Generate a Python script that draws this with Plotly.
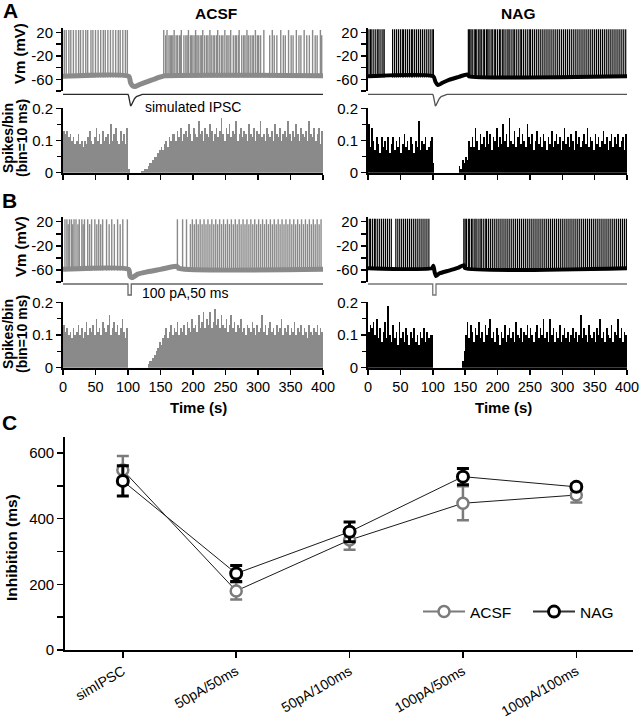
import plotly.graph_objects as go

W, H = 642, 719

# ------------------------------------------------------------------ data
time_ticks = [0, 50, 100, 150, 200, 250, 300, 350, 400]
bin_ms = 2.5
vm_ticks = [20, -20, -60]
vm_minor_ticks = [0, -40, -80]
hist_ticks = [0, 0.1, 0.2]
hist_ticktext = ["0", "0.1", "0.2"]
hist_minor_ticks = [0.05, 0.15]

# stimulus waveforms (time, relative amplitude)
ipsc_t = [0, 100, 101, 102, 103, 104, 105, 106, 108, 110, 113, 117, 122, 400]
ipsc_v = [0, 0, -0.15, -0.55, -0.85, -1.0, -0.95, -0.8, -0.55, -0.38, -0.2, -0.08, 0, 0]
pulse_t = [0, 100, 100, 105, 105, 400]
pulse_v = [0, 0, -1, -1, 0, 0]

# membrane-potential baselines (time, mV)
acsf_a_base_t = [0, 101, 104, 108, 112, 120, 130, 140, 150, 157, 400]
acsf_a_base_v = [-55, -55, -66, -72, -72, -68, -64, -60, -56, -54, -54]
nag_a_base_t = [0, 101, 104, 108, 115, 125, 140, 153, 156, 400]
nag_a_base_v = [-55, -55, -64, -70, -66, -61, -56, -52, -55, -55]
acsf_b_base_t = [0, 101, 103, 106, 115, 130, 150, 175, 180, 400]
acsf_b_base_v = [-59, -59, -70, -73, -67, -63, -59, -54, -58, -59]
nag_b_base_t = [0, 99, 101, 103, 105, 110, 125, 140, 148, 150, 400]
nag_b_base_v = [-57, -57, -53, -64, -70, -66, -61, -56, -52, -57, -57]

# spike times (ms) with their peak groups
acsf_a_spk_tall = [2, 5, 9, 12, 16, 20, 24, 27, 31, 35, 38, 43, 46, 50, 54, 58, 62, 65,
                   69, 73, 77, 81, 85, 88, 92, 96, 99, 155, 160, 171, 182, 193, 204,
                   215, 226, 238, 249, 258, 271, 283, 296, 309, 322, 335, 347, 359,
                   371, 384, 396]
acsf_a_spk_short = [158, 163, 165, 167, 169, 174, 176, 179, 181, 186, 189, 191, 196,
                    198, 200, 203, 206, 208, 211, 213, 218, 221, 223, 228, 231, 233,
                    236, 241, 244, 246, 252, 254, 257, 262, 265, 267, 270, 275, 278,
                    280, 285, 288, 291, 293, 299, 301, 304, 318, 325, 329, 339, 342,
                    351, 354, 363, 366, 375, 379, 388, 391, 398]
nag_a_spk = [1.5, 4, 6, 9, 12, 15, 17, 20, 23, 25, 38, 41, 44, 47, 50, 53, 55, 58, 61,
             64, 67, 69, 72, 75, 78, 81, 84, 87, 90, 93, 96, 99, 101, 155, 157, 159,
             161, 164, 166, 168, 171, 173, 175, 178, 180, 183, 185, 187, 190, 192,
             195, 197, 200, 203, 205, 208, 210, 213, 216, 218, 221, 224, 226, 229,
             232, 235, 237, 240, 243, 246, 249, 251, 254, 257, 260, 263, 266, 269,
             272, 275, 278, 281, 284, 287, 290, 293, 296, 299, 302, 305, 308, 311,
             314, 317, 320, 323, 326, 329, 332, 335, 338, 341, 344, 347, 350, 353,
             356, 359, 362, 365, 368, 371, 374, 377, 380, 383, 386, 389, 392, 395, 398]
acsf_b_spk_tall = [3, 6, 10, 13, 17, 20, 25, 29, 33, 38, 44, 49, 55, 61, 67, 75, 84,
                   92, 99, 176, 184, 190, 199, 205, 211, 217, 223, 229, 235, 241, 247,
                   253, 259, 265, 271, 277, 283, 289, 295, 301, 307, 313, 319, 325,
                   331, 337, 343, 349, 355, 361, 367, 373, 379, 385, 391, 397]
acsf_b_spk_short = [8, 15, 23, 31, 41, 52, 58, 71, 79, 88, 196, 202, 208, 214, 220,
                    226, 232, 238, 244, 250, 256, 262, 268, 274, 280, 286, 292, 298,
                    304, 310, 316, 322, 328, 334, 340, 346, 352, 358, 364, 370, 376,
                    382, 388, 394]
nag_b_spk = [2, 4, 7, 10, 12, 15, 18, 21, 24, 27, 30, 33, 36, 43, 46, 49, 52, 55, 58,
             61, 64, 67, 70, 73, 76, 79, 82, 85, 88, 91, 94, 148, 150, 152, 155, 157,
             160, 162, 165, 167, 170, 173, 175, 178, 181, 183, 186, 189, 192, 195,
             198, 201, 204, 207, 210, 213, 216, 219, 222, 225, 228, 231, 234, 237,
             240, 243, 246, 249, 252, 255, 258, 261, 264, 267, 270, 273, 276, 279,
             282, 285, 288, 291, 294, 297, 300, 303, 306, 309, 312, 315, 318, 321,
             324, 327, 330, 333, 336, 339, 342, 345, 348, 351, 354, 357, 360, 363,
             366, 369, 372, 375, 378, 381, 384, 387, 390, 393, 396, 399]

# peri-stimulus histograms (spikes/bin), consecutive 2.5 ms bins from 0 ms
acsf_a_hist = [
    0.13, 0.12, 0.13, 0.11, 0.12, 0.10, 0.11, 0.09, 0.10, 0.12,
    0.09, 0.10, 0.08, 0.10, 0.09, 0.11, 0.13, 0.10, 0.09, 0.11,
    0.14, 0.10, 0.12, 0.09, 0.13, 0.10, 0.11, 0.12, 0.09, 0.15,
    0.10, 0.12, 0.14, 0.10, 0.09, 0.13, 0.10, 0.12, 0.09, 0.14,
    0.01, 0, 0, 0, 0, 0, 0, 0, 0.005, 0.005,
    0.01, 0.01, 0.02, 0.03, 0.03, 0.04, 0.05, 0.05, 0.06, 0.07,
    0.08, 0.07, 0.09, 0.10, 0.08, 0.11, 0.10, 0.12,
    0.12, 0.10, 0.13, 0.11, 0.14, 0.10, 0.12, 0.13, 0.11, 0.15,
    0.12, 0.10, 0.14, 0.12, 0.11, 0.16, 0.12, 0.13, 0.10, 0.14,
    0.12, 0.11, 0.15, 0.13, 0.10, 0.12, 0.14, 0.11, 0.13, 0.17,
    0.12, 0.10, 0.14, 0.12, 0.15, 0.11, 0.13, 0.12, 0.16, 0.10,
    0.12, 0.14, 0.11, 0.13, 0.12, 0.10, 0.15, 0.12, 0.11, 0.14,
    0.10, 0.13, 0.12, 0.16, 0.11, 0.12, 0.10, 0.14, 0.12, 0.11,
    0.13, 0.10, 0.15, 0.12, 0.11, 0.14, 0.10, 0.12, 0.13, 0.11,
    0.16, 0.12, 0.10, 0.13, 0.11, 0.15, 0.12, 0.10, 0.14, 0.12,
    0.11, 0.13, 0.10, 0.16, 0.12, 0.11, 0.14, 0.10, 0.12, 0.14,
    0.09, 0.13]
nag_a_hist = [
    0.15, 0.08, 0.14, 0.10, 0.07, 0.11, 0.09, 0.06, 0.11, 0.08,
    0.10, 0.07, 0.11, 0.06, 0.09, 0.11, 0.07, 0.10, 0.08, 0.11,
    0.06, 0.09, 0.12, 0.08, 0.10, 0.07, 0.11, 0.09, 0.06, 0.10,
    0.08, 0.16, 0.07, 0.10, 0.09, 0.11, 0.07, 0.08, 0.10, 0.11,
    0.03, 0, 0, 0, 0, 0, 0, 0, 0, 0, 0, 0, 0, 0, 0, 0,
    0.02, 0.01, 0.04, 0.03, 0.05, 0.04, 0.10, 0.08,
    0.11, 0.08, 0.14, 0.10, 0.07, 0.12, 0.09, 0.11, 0.08, 0.13,
    0.09, 0.12, 0.07, 0.11, 0.10, 0.14, 0.08, 0.11, 0.09, 0.15,
    0.10, 0.12, 0.08, 0.17, 0.10, 0.09, 0.13, 0.08, 0.11, 0.14,
    0.09, 0.12, 0.10, 0.08, 0.15, 0.11, 0.09, 0.12, 0.07, 0.10,
    0.13, 0.09, 0.11, 0.08, 0.12, 0.10, 0.07, 0.11, 0.09, 0.13,
    0.08, 0.10, 0.12, 0.09, 0.11, 0.07, 0.10, 0.14, 0.09, 0.11,
    0.08, 0.12, 0.10, 0.07, 0.13, 0.09, 0.11, 0.08, 0.10, 0.12,
    0.09, 0.14, 0.08, 0.11, 0.10, 0.07, 0.12, 0.09, 0.11, 0.08,
    0.10, 0.13, 0.09, 0.11, 0.07, 0.10, 0.12, 0.08, 0.11, 0.09,
    0.12, 0.08, 0.10, 0.11, 0.07, 0.12]
acsf_b_hist = [
    0.13, 0.11, 0.12, 0.10, 0.11, 0.09, 0.12, 0.10, 0.11, 0.13,
    0.10, 0.12, 0.09, 0.11, 0.14, 0.10, 0.12, 0.11, 0.13, 0.10,
    0.15, 0.11, 0.12, 0.10, 0.14, 0.12, 0.11, 0.13, 0.16, 0.10,
    0.12, 0.14, 0.11, 0.13, 0.10, 0.12, 0.15, 0.11, 0.09, 0.12,
    0, 0, 0, 0, 0, 0, 0, 0, 0, 0, 0, 0,
    0.01, 0.02, 0.02, 0.03, 0.04, 0.05, 0.06, 0.08, 0.07, 0.09,
    0.10, 0.12, 0.09, 0.11, 0.13, 0.10, 0.12, 0.11, 0.14, 0.10,
    0.12, 0.11, 0.13, 0.10, 0.14, 0.12, 0.11, 0.15, 0.12, 0.13,
    0.11, 0.16, 0.12, 0.14, 0.17, 0.12, 0.15, 0.13, 0.17, 0.12,
    0.14, 0.18, 0.13, 0.15, 0.12, 0.16, 0.13, 0.12, 0.15, 0.11,
    0.13, 0.16, 0.12, 0.14, 0.11, 0.13, 0.12, 0.15, 0.11, 0.12,
    0.10, 0.13, 0.12, 0.11, 0.14, 0.12, 0.10, 0.13, 0.11, 0.12,
    0.16, 0.11, 0.13, 0.10, 0.12, 0.14, 0.11, 0.12, 0.10, 0.13,
    0.11, 0.12, 0.15, 0.10, 0.12, 0.11, 0.13, 0.10, 0.12, 0.11,
    0.14, 0.10, 0.12, 0.11, 0.13, 0.10, 0.12, 0.11, 0.09, 0.13,
    0.11, 0.10, 0.12, 0.11, 0.13, 0.10, 0.12, 0.11]
nag_b_hist = [
    0.11, 0.13, 0.12, 0.14, 0.10, 0.15, 0.09, 0.12, 0.08, 0.11,
    0.14, 0.09, 0.19, 0.10, 0.08, 0.13, 0.09, 0.11, 0.07, 0.14,
    0.09, 0.11, 0.08, 0.12, 0.10, 0.07, 0.11, 0.09, 0.12, 0.08,
    0.10, 0.07, 0.11, 0.09, 0.12, 0.08, 0.11, 0.09, 0.10, 0.10,
    0, 0, 0, 0, 0, 0, 0, 0, 0, 0, 0, 0, 0, 0, 0, 0, 0, 0,
    0.02, 0.05,
    0.10, 0.14, 0.09, 0.13, 0.11, 0.08, 0.12, 0.10, 0.14, 0.09,
    0.11, 0.08, 0.13, 0.10, 0.12, 0.15, 0.09, 0.11, 0.08, 0.12,
    0.10, 0.07, 0.11, 0.09, 0.13, 0.08, 0.10, 0.12, 0.09, 0.11,
    0.08, 0.14, 0.10, 0.09, 0.12, 0.08, 0.11, 0.10, 0.13, 0.09,
    0.12, 0.10, 0.08, 0.11, 0.13, 0.09, 0.12, 0.10, 0.15, 0.09,
    0.11, 0.08, 0.15, 0.10, 0.12, 0.08, 0.11, 0.09, 0.13, 0.08,
    0.10, 0.12, 0.09, 0.11, 0.08, 0.10, 0.12, 0.09, 0.11, 0.08,
    0.10, 0.16, 0.09, 0.12, 0.10, 0.08, 0.13, 0.10, 0.09, 0.11,
    0.08, 0.12, 0.10, 0.15, 0.09, 0.11, 0.08, 0.12, 0.10, 0.09,
    0.13, 0.08, 0.11, 0.10, 0.15, 0.09, 0.12, 0.08, 0.11, 0.10]

# panel C
categories = ["simIPSC", "50pA/50ms", "50pA/100ms", "100pA/50ms", "100pA/100ms"]
acsf_mean = [548, 180, 335, 447, 472]
acsf_err = [43, 26, 30, 52, 23]
nag_mean = [515, 233, 360, 528, 497]
nag_err = [46, 24, 30, 25, 8]
c_ticks = [0, 200, 400, 600]
c_minor_ticks = [100, 300, 500]

# ------------------------------------------------------------------ style
FONT = "Liberation Sans, Arial, sans-serif"
GRAY = "#8a8a8a"
CGRAY = "#7b7b7b"
BLACK = "#000000"


def dx(left, right):
    return [left / W, right / W]


def dy(top, bottom):
    return [1 - bottom / H, 1 - top / H]


fig = go.Figure()
layout = {}


def spikes(times, base, peak):
    xs, ys = [], []
    for t in times:
        xs += [t, t, None]
        ys += [base, peak, None]
    return xs, ys


def add_column(idx, xdom, vm_dom, st_dom, hi_dom, color, base_t, base_v,
               spike_groups, stim_t, stim_v, stim_color, hist, show_xlabels,
               spike_w, base_w):
    n_vm, n_st, n_hi = idx, idx + 1, idx + 2
    # Vm
    for times, peak in spike_groups:
        sx, sy = spikes(times, base_v[0] - 2, peak)
        fig.add_trace(go.Scatter(x=sx, y=sy, mode="lines",
                                 line=dict(color=color, width=spike_w),
                                 xaxis=f"x{n_vm}", yaxis=f"y{n_vm}", showlegend=False,
                                 hoverinfo="skip"))
    fig.add_trace(go.Scatter(x=base_t, y=base_v, mode="lines",
                             line=dict(color=color, width=base_w, shape="spline",
                                       smoothing=0.6),
                             xaxis=f"x{n_vm}", yaxis=f"y{n_vm}", showlegend=False,
                             hoverinfo="skip"))
    # stimulus
    fig.add_trace(go.Scatter(x=stim_t, y=stim_v, mode="lines",
                             line=dict(color=stim_color, width=1.3),
                             xaxis=f"x{n_st}", yaxis=f"y{n_st}", showlegend=False,
                             hoverinfo="skip"))
    # histogram
    centers = [bin_ms * i + bin_ms / 2 for i in range(len(hist))]
    fig.add_trace(go.Bar(x=centers, y=hist, width=[bin_ms] * len(hist),
                         marker=dict(color=color, line=dict(width=0)),
                         xaxis=f"x{n_hi}", yaxis=f"y{n_hi}", showlegend=False,
                         hoverinfo="skip"))

    hidden = dict(visible=False, showgrid=False, zeroline=False, automargin=False)
    layout[f"xaxis{n_vm}"] = dict(domain=xdom, range=[0, 400], anchor=f"y{n_vm}", **hidden)
    layout[f"yaxis{n_vm}"] = dict(
        domain=vm_dom, range=[-80, 28], anchor=f"x{n_vm}", showgrid=False, zeroline=False,
        automargin=False,
        showline=True, linecolor="black", linewidth=2, ticks="outside", ticklen=5,
        tickwidth=1.5, tickcolor="black", tickvals=vm_ticks,
        ticktext=[str(v) for v in vm_ticks], tickfont=dict(size=15, color="black"),
        minor=dict(tickvals=vm_minor_ticks, ticks="outside", ticklen=5, tickwidth=1.5,
                   tickcolor="black"))
    layout[f"xaxis{n_st}"] = dict(domain=xdom, range=[0, 400], anchor=f"y{n_st}", **hidden)
    layout[f"yaxis{n_st}"] = dict(domain=st_dom, range=[-1.2, 0.3], anchor=f"x{n_st}", **hidden)
    layout[f"xaxis{n_hi}"] = dict(
        domain=xdom, range=[0, 400], anchor=f"y{n_hi}", showgrid=False, zeroline=False,
        automargin=False,
        showline=True, linecolor="black", linewidth=2, ticks="outside", ticklen=5,
        tickwidth=1.5, tickcolor="black", tickvals=time_ticks,
        showticklabels=show_xlabels, tickfont=dict(size=14.5, color="black"))
    layout[f"yaxis{n_hi}"] = dict(
        domain=hi_dom, range=[0, 0.2], anchor=f"x{n_hi}", showgrid=False, zeroline=False,
        automargin=False,
        showline=True, linecolor="black", linewidth=2, ticks="outside", ticklen=5,
        tickwidth=1.5, tickcolor="black", tickvals=hist_ticks, ticktext=hist_ticktext,
        tickfont=dict(size=15, color="black"),
        minor=dict(tickvals=hist_minor_ticks, ticks="outside", ticklen=4, tickwidth=1.5,
                   tickcolor="black"))


LEFT = dx(63, 323)
RIGHT = dx(368, 627)

add_column(1, LEFT, dy(27.6, 91), dy(90.8, 108.3), dy(108.3, 172.7), GRAY,
           acsf_a_base_t, acsf_a_base_v, [(acsf_a_spk_short, 15), (acsf_a_spk_tall, 24)],
           ipsc_t, ipsc_v, "#2a2a2a", acsf_a_hist, False, 1.4, 5)
add_column(4, RIGHT, dy(27.6, 91), dy(90.8, 108.3), dy(108.3, 172.7), BLACK,
           nag_a_base_t, nag_a_base_v, [(nag_a_spk, 25)],
           ipsc_t, ipsc_v, "#555555", nag_a_hist, False, 1.2, 4)
add_column(7, LEFT, dy(216.9, 282), dy(280.7, 297.2), dy(302.3, 367.7), GRAY,
           acsf_b_base_t, acsf_b_base_v, [(acsf_b_spk_short, 16), (acsf_b_spk_tall, 24)],
           pulse_t, pulse_v, "#666666", acsf_b_hist, True, 1.4, 5)
add_column(10, RIGHT, dy(216.9, 282), dy(280.7, 297.2), dy(302.3, 367.7), BLACK,
           nag_b_base_t, nag_b_base_v, [(nag_b_spk, 25)],
           pulse_t, pulse_v, "#777777", nag_b_hist, True, 1.2, 4)

# ------------------------------------------------------------------ panel C
fig.add_trace(go.Scatter(
    x=categories, y=acsf_mean, mode="lines+markers", name="ACSF",
    error_y=dict(type="data", array=acsf_err, color=CGRAY, thickness=2.5, width=6),
    line=dict(color="#1a1a1a", width=1),
    marker=dict(symbol="circle", size=11, color="white", line=dict(color=CGRAY, width=2.5)),
    xaxis="x13", yaxis="y13", showlegend=False, hoverinfo="skip"))
fig.add_trace(go.Scatter(
    x=categories, y=nag_mean, mode="lines+markers", name="NAG",
    error_y=dict(type="data", array=nag_err, color=BLACK, thickness=3, width=6),
    line=dict(color="#1a1a1a", width=1),
    marker=dict(symbol="circle", size=11, color="white", line=dict(color=BLACK, width=3)),
    xaxis="x13", yaxis="y13", showlegend=False, hoverinfo="skip"))
# legend entries
fig.add_trace(go.Scatter(
    x=[None], y=[None], mode="lines+markers", name="ACSF",
    line=dict(color=CGRAY, width=2),
    marker=dict(symbol="circle", size=11, color="white", line=dict(color=CGRAY, width=2.5)),
    xaxis="x13", yaxis="y13", showlegend=True))
fig.add_trace(go.Scatter(
    x=[None], y=[None], mode="lines+markers", name="NAG",
    line=dict(color="#333333", width=2),
    marker=dict(symbol="circle", size=11, color="white", line=dict(color=BLACK, width=3)),
    xaxis="x13", yaxis="y13", showlegend=True))

layout["xaxis13"] = dict(
    domain=dx(65, 633), type="category", range=[-0.51, 4.5], anchor="y13",
    showgrid=False, zeroline=False, showline=True, linecolor="black", linewidth=1.8,
    automargin=False,
    ticks="outside", ticklen=6, tickwidth=1.5, tickcolor="black", tickangle=-30,
    tickfont=dict(size=14, color="black"))
layout["yaxis13"] = dict(
    domain=dy(436.6, 650), range=[0, 650], anchor="x13", showgrid=False, zeroline=False,
    automargin=False,
    showline=True, linecolor="black", linewidth=1.8, ticks="outside", ticklen=6,
    tickwidth=1.5, tickcolor="black", tickvals=c_ticks, tickfont=dict(size=15, color="black"),
    minor=dict(tickvals=c_minor_ticks, ticks="outside", ticklen=6, tickwidth=1.5,
               tickcolor="black"))

# ------------------------------------------------------------------ text
ann = []


def text(s, x, y, size, bold=False, angle=0, color="black"):
    ann.append(dict(text=f"<b>{s}</b>" if bold else s, x=x / W, y=1 - y / H,
                    xref="paper", yref="paper", showarrow=False, textangle=angle,
                    font=dict(family=FONT, size=size, color=color),
                    xanchor="center", yanchor="middle"))


text("A", 10, 10, 21, bold=True)
text("B", 9, 200, 21, bold=True)
text("C", 9, 422, 21, bold=True)
text("ACSF", 216, 14, 15.5, bold=True)
text("NAG", 518, 14, 15.5, bold=True)
for yc in (54, 247):
    text("Vm (mV)", 20, yc, 15, bold=True, angle=-90)
for yc in (138, 334):
    text("Spikes/bin", 8, yc, 14, bold=True, angle=-90)
    text("(bin=10 ms)", 22, yc, 14, bold=True, angle=-90)
text("simulated IPSC", 193, 107, 14)
text("100 pA,50 ms", 185, 293, 14)
text("Time (s)", 198, 407, 15, bold=True)
text("Time (s)", 503, 407, 15, bold=True)
text("Inhibition (ms)", 11, 548, 15.5, bold=True, angle=-90)

layout.update(
    width=W, height=H, autosize=False,
    margin=dict(l=0, r=0, t=0, b=0, pad=0, autoexpand=False),
    paper_bgcolor="white", plot_bgcolor="white",
    font=dict(family=FONT, color="black"),
    bargap=0,
    showlegend=True,
    legend=dict(orientation="h", x=418 / W, y=1 - 612 / H, xanchor="left", yanchor="middle",
                font=dict(size=15.5, color="black"), bgcolor="rgba(0,0,0,0)",
                entrywidth=53, entrywidthmode="pixels", itemwidth=42,
                traceorder="normal"),
    annotations=ann,
)
fig.update_layout(layout)

fig.write_html("out.html", config={"displayModeBar": False, "staticPlot": True},
               post_script="document.body.style.margin='0px';"
                           "document.documentElement.style.overflow='hidden';")
